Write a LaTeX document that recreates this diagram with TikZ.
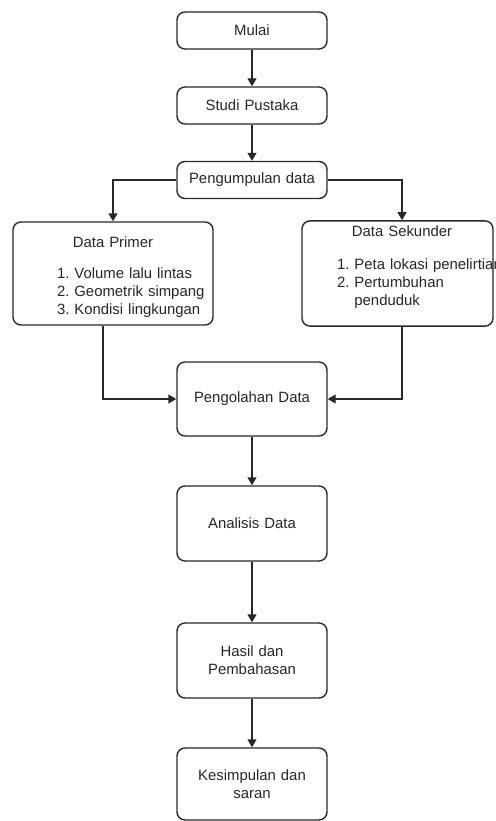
\documentclass[tikz,border=0pt]{standalone}
\usepackage{fontspec}
\setmainfont{Liberation Sans}
\usetikzlibrary{arrows.meta, positioning}
\definecolor{line_gray}{RGB}{40, 40, 40}
\definecolor{text_gray}{RGB}{38, 38, 38}
\frenchspacing

\begin{document}
\begin{tikzpicture}[
    x=1pt, y=-1pt,
    % Node styles
    proses/.style={
        rectangle,
        draw=line_gray,
        line width=1.4pt,
        rounded corners=8pt,
        text=text_gray,
        minimum width=150pt,
        minimum height=#1,
        text width=140pt,
        inner sep=5pt,
        align=center,
        font=\fontsize{14.9}{18}\selectfont
    },
    proses/.default=37pt,
    daftar/.style={
        proses=101pt,
        minimum width=#1,
        text width=#1-10pt
    },
    arrow/.style={
        -{Triangle[length=8pt, width=9pt]},
        line width=1.4pt,
        draw=line_gray
    }
]
\useasboundingbox (0,0) rectangle (495,821);

% Position nodes
\node[proses] (mulai) at (252,30.5) {Mulai};
\node[proses] (studi) at (252,105.5) {Studi Pustaka};
\node[proses] (kumpul) at (252,180) {Pengumpulan data};

\node[daftar=200pt] (primer) at (113,273.5) {\strut\\[-10pt]Data Primer\\[13pt]%
    \makebox[190pt][l]{\hspace*{39pt}\begin{tabular}[t]{@{}l@{}}
        1. Volume lalu lintas\\
        2. Geometrik simpang\\
        3. Kondisi lingkungan
    \end{tabular}}};
\node[daftar=191pt] (sekunder) at (397.5,273.5) {\hspace*{9pt}Data Sekunder\\[15pt]%
    \makebox[181pt][l]{\hspace*{30pt}\begin{tabular}[t]{@{}l@{\ }l@{}}
        1.&Peta lokasi penelirtian\\
        2.&Pertumbuhan\\
          &penduduk
    \end{tabular}}\\[-9pt]\strut};

\node[proses=74pt] (olah) at (252,399) {Pengolahan Data};
\node[proses=75pt] (analisis) at (252,523.5) {Analisis Data};
\node[proses=75pt] (hasil) at (252,660.5) {Hasil dan\\Pembahasan};
\node[proses=72pt] (simpul) at (252,784) {Kesimpulan dan\\saran};

% Connectors
\draw[arrow] (mulai.south) -- (studi.north);
\draw[arrow] (studi.south) -- (kumpul.north);
\draw[arrow] (kumpul.west) -| (primer.north);
\draw[arrow] (kumpul.east) -| ([xshift=4.5pt]sekunder.north);
\draw[arrow] ([xshift=-10pt]primer.south) |- (olah.west);
\draw[arrow] ([xshift=4.5pt]sekunder.south) |- (olah.east);
\draw[arrow] (olah.south) -- (analisis.north);
\draw[arrow] (analisis.south) -- (hasil.north);
\draw[arrow] (hasil.south) -- (simpul.north);

\end{tikzpicture}
\end{document}
